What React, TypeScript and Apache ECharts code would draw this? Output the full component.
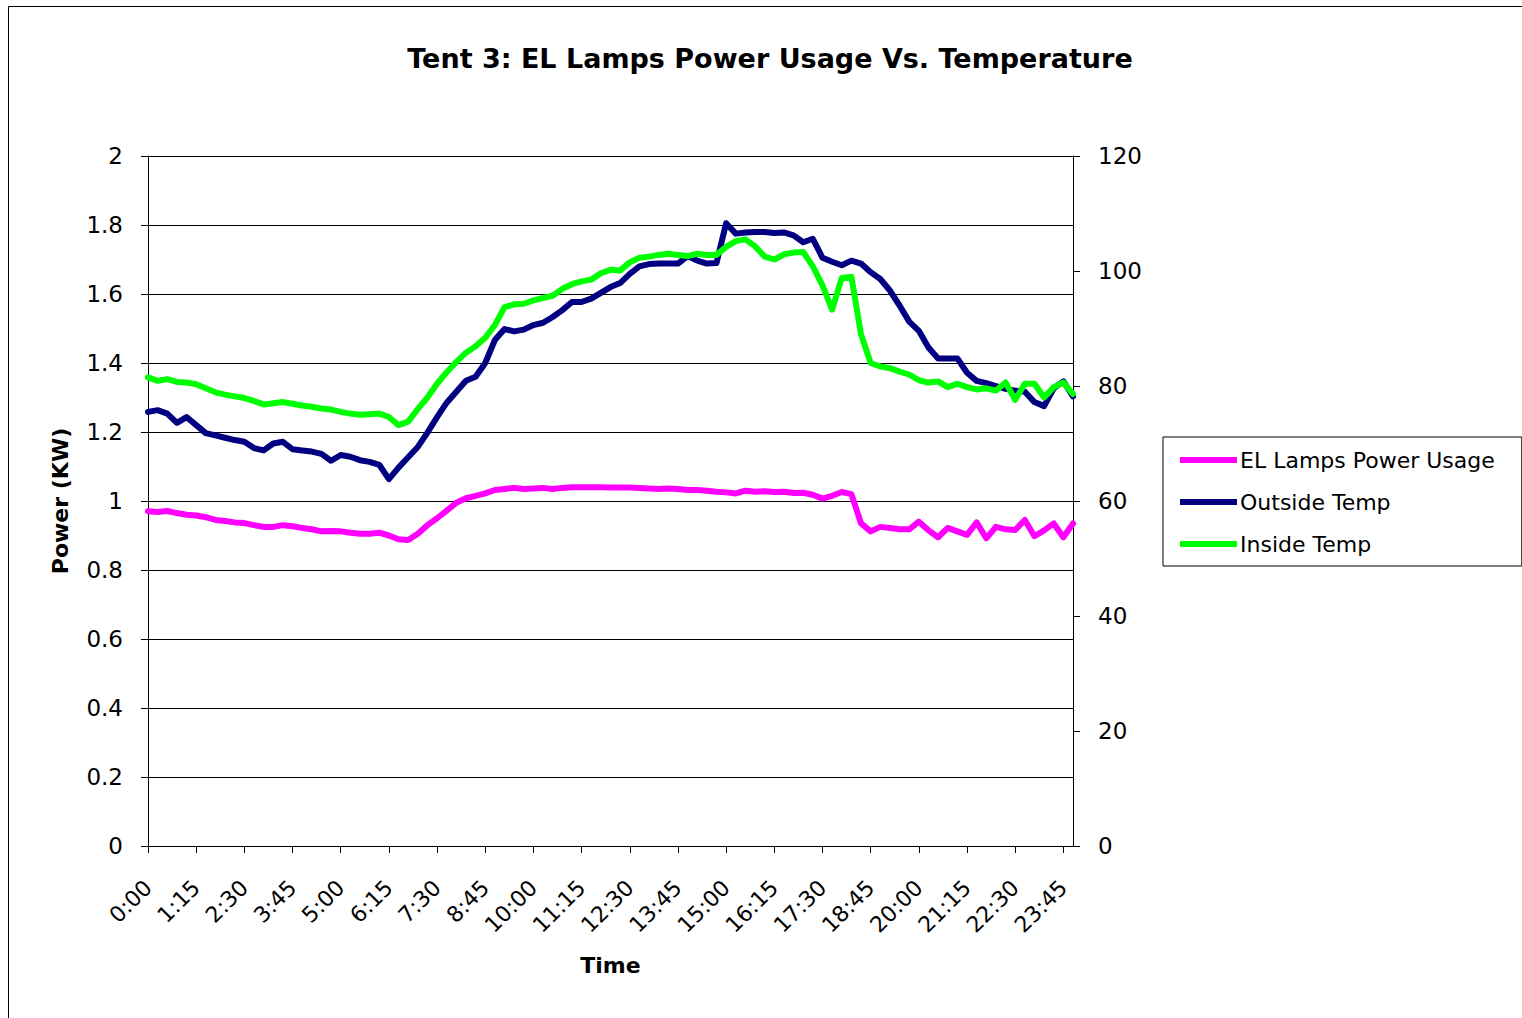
import React, { useEffect, useRef } from "react";
import * as echarts from "echarts";

const times: string[] = [
  "0:00","0:15","0:30","0:45","1:00","1:15","1:30","1:45","2:00","2:15","2:30","2:45",
  "3:00","3:15","3:30","3:45","4:00","4:15","4:30","4:45","5:00","5:15","5:30","5:45",
  "6:00","6:15","6:30","6:45","7:00","7:15","7:30","7:45","8:00","8:15","8:30","8:45",
  "9:00","9:15","9:30","9:45","10:00","10:15","10:30","10:45","11:00","11:15","11:30","11:45",
  "12:00","12:15","12:30","12:45","13:00","13:15","13:30","13:45","14:00","14:15","14:30","14:45",
  "15:00","15:15","15:30","15:45","16:00","16:15","16:30","16:45","17:00","17:15","17:30","17:45",
  "18:00","18:15","18:30","18:45","19:00","19:15","19:30","19:45","20:00","20:15","20:30","20:45",
  "21:00","21:15","21:30","21:45","22:00","22:15","22:30","22:45","23:00","23:15","23:30","23:45",
  "0:00",
];

const powerUsage: number[] = [
  0.970, 0.968, 0.971, 0.965, 0.960, 0.958, 0.953, 0.945, 0.942, 0.938,
  0.936, 0.930, 0.925, 0.925, 0.930, 0.927, 0.922, 0.918, 0.912, 0.913,
  0.912, 0.908, 0.905, 0.905, 0.908, 0.900, 0.889, 0.887, 0.905, 0.930,
  0.950, 0.972, 0.995, 1.008, 1.015, 1.022, 1.032, 1.035, 1.038, 1.035,
  1.036, 1.038, 1.035, 1.038, 1.040, 1.040, 1.040, 1.040, 1.039, 1.039,
  1.039, 1.038, 1.036, 1.035, 1.036, 1.035, 1.032, 1.032, 1.030, 1.027,
  1.025, 1.022, 1.030, 1.027, 1.028, 1.026, 1.027, 1.023, 1.024, 1.018,
  1.007, 1.015, 1.026, 1.020, 0.935, 0.912, 0.925, 0.922, 0.918, 0.918,
  0.940, 0.915, 0.895, 0.922, 0.912, 0.902, 0.938, 0.892, 0.925, 0.918,
  0.916, 0.945, 0.898, 0.915, 0.935, 0.895, 0.935,
];

const outsideTemp: number[] = [
  75.5, 75.8, 75.2, 73.6, 74.6, 73.2, 71.8, 71.4, 71.0, 70.6,
  70.3, 69.2, 68.8, 70.0, 70.3, 69.0, 68.8, 68.6, 68.2, 67.0,
  68.0, 67.7, 67.1, 66.8, 66.3, 63.8, 65.8, 67.6, 69.4, 71.9,
  74.6, 77.1, 79.0, 80.9, 81.6, 84.0, 88.0, 89.9, 89.5, 89.8,
  90.6, 91.0, 92.0, 93.2, 94.6, 94.6, 95.2, 96.2, 97.2, 97.9,
  99.5, 100.8, 101.2, 101.3, 101.3, 101.3, 102.6, 101.8, 101.3, 101.4,
  108.3, 106.5, 106.7, 106.8, 106.8, 106.6, 106.7, 106.2, 105.0, 105.6,
  102.3, 101.6, 101.0, 101.8, 101.3, 99.8, 98.6, 96.6, 94.0, 91.2,
  89.6, 86.7, 84.8, 84.8, 84.8, 82.3, 80.9, 80.5, 80.0, 79.5,
  79.2, 79.0, 77.2, 76.5, 79.6, 80.8, 78.2,
];

const insideTemp: number[] = [
  81.5, 80.9, 81.2, 80.7, 80.6, 80.3, 79.6, 78.9, 78.5, 78.2,
  77.9, 77.4, 76.8, 77.0, 77.2, 76.9, 76.6, 76.4, 76.1, 75.9,
  75.5, 75.2, 75.0, 75.1, 75.2, 74.6, 73.2, 73.8, 76.0, 78.0,
  80.4, 82.4, 84.2, 85.8, 86.9, 88.4, 90.6, 93.7, 94.2, 94.3,
  94.9, 95.3, 95.7, 96.9, 97.7, 98.2, 98.5, 99.6, 100.2, 100.1,
  101.5, 102.3, 102.5, 102.8, 103.0, 102.8, 102.6, 103.0, 102.8, 102.8,
  104.2, 105.2, 105.5, 104.3, 102.5, 102.0, 102.9, 103.2, 103.3, 100.8,
  97.5, 93.3, 98.8, 99.0, 89.0, 84.0, 83.4, 83.1, 82.5, 82.0,
  81.0, 80.6, 80.8, 79.8, 80.4, 79.8, 79.4, 79.6, 79.2, 80.6,
  77.6, 80.4, 80.4, 78.0, 79.8, 80.6, 78.6,
];

const seriesNames: string[] = ["EL Lamps Power Usage", "Outside Temp", "Inside Temp"];
const seriesColors: string[] = ["#FF00FF", "#000080", "#00FF00"];

const FONT = "'DejaVu Sans', 'Liberation Sans', Arial, sans-serif";

export default function App() {
  const ref = useRef<HTMLDivElement>(null);
  useEffect(() => {
    if (!ref.current) return;
    const chart = echarts.init(ref.current, undefined, { renderer: "svg" });
    const lineSeries = (name: string, data: number[], color: string, yIdx: number) => ({
      name,
      type: "line",
      data,
      yAxisIndex: yIdx,
      showSymbol: false,
      symbol: "none",
      lineStyle: { color, width: 6, join: "round", cap: "round" },
      itemStyle: { color },
      z: 3,
    });
    chart.setOption({
      animation: false,
      backgroundColor: "#ffffff",
      textStyle: { fontFamily: FONT },
      graphic: [
        {
          type: "rect",
          shape: { x: 8.5, y: 6.5, width: 1530, height: 1030 },
          style: { fill: "none", stroke: "#000", lineWidth: 1 },
          silent: true,
        },
        {
          type: "text",
          x: 770,
          y: 58,
          style: {
            text: "Tent 3: EL Lamps Power Usage Vs. Temperature",
            fontFamily: FONT,
            fontSize: 27,
            fontWeight: "bold",
            fill: "#000",
            align: "center",
            verticalAlign: "middle",
          },
          silent: true,
        },
      ],
      grid: { left: 148, right: 449, top: 156, bottom: 172, containLabel: false },
      legend: {
        orient: "vertical",
        left: 1163,
        top: 437,
        padding: [12, 27, 11, 17],
        itemGap: 20,
        itemWidth: 57,
        itemHeight: 6,
        icon: "rect",
        borderColor: "#000",
        borderWidth: 1,
        textStyle: { fontFamily: FONT, fontSize: 22, color: "#000", padding: [0, 0, 0, -2] },
        data: seriesNames,
      },
      xAxis: {
        type: "category",
        data: times,
        boundaryGap: false,
        name: "Time",
        nameLocation: "middle",
        nameGap: 108,
        nameTextStyle: { fontFamily: FONT, fontSize: 22, fontWeight: "bold", color: "#000" },
        axisLine: { lineStyle: { color: "#000", width: 1 } },
        axisTick: { show: true, interval: 4, length: 7, inside: false, lineStyle: { color: "#000" } },
        axisLabel: {
          interval: 4,
          rotate: 45,
          margin: 38,
          fontFamily: FONT,
          fontSize: 22,
          color: "#000",
        },
        splitLine: { show: false },
      },
      yAxis: [
        {
          type: "value",
          min: 0,
          max: 2,
          interval: 0.2,
          name: "Power (KW)",
          nameLocation: "middle",
          nameGap: 77,
          nameTextStyle: { fontFamily: FONT, fontSize: 22, fontWeight: "bold", color: "#000" },
          axisLine: { show: true, lineStyle: { color: "#000", width: 1 } },
          axisTick: { show: true, length: 7, lineStyle: { color: "#000" } },
          axisLabel: {
            margin: 25,
            fontFamily: FONT,
            fontSize: 23,
            color: "#000",
            formatter: (v: number) => String(+v.toFixed(1)),
          },
          splitLine: { show: true, lineStyle: { color: "#000", width: 1 } },
        },
        {
          type: "value",
          min: 0,
          max: 120,
          interval: 20,
          position: "right",
          axisLine: { show: true, lineStyle: { color: "#000", width: 1 } },
          axisTick: { show: true, length: 7, lineStyle: { color: "#000" } },
          axisLabel: { margin: 25, fontFamily: FONT, fontSize: 23, color: "#000" },
          splitLine: { show: false },
        },
      ],
      series: [
        lineSeries(seriesNames[0], powerUsage, seriesColors[0], 0),
        lineSeries(seriesNames[1], outsideTemp, seriesColors[1], 1),
        lineSeries(seriesNames[2], insideTemp, seriesColors[2], 1),
      ],
    });
    return () => chart.dispose();
  }, []);
  return (
    <div
      ref={ref}
      style={{ position: "fixed", left: 0, top: 0, width: 1522, height: 1018 }}
    />
  );
}
